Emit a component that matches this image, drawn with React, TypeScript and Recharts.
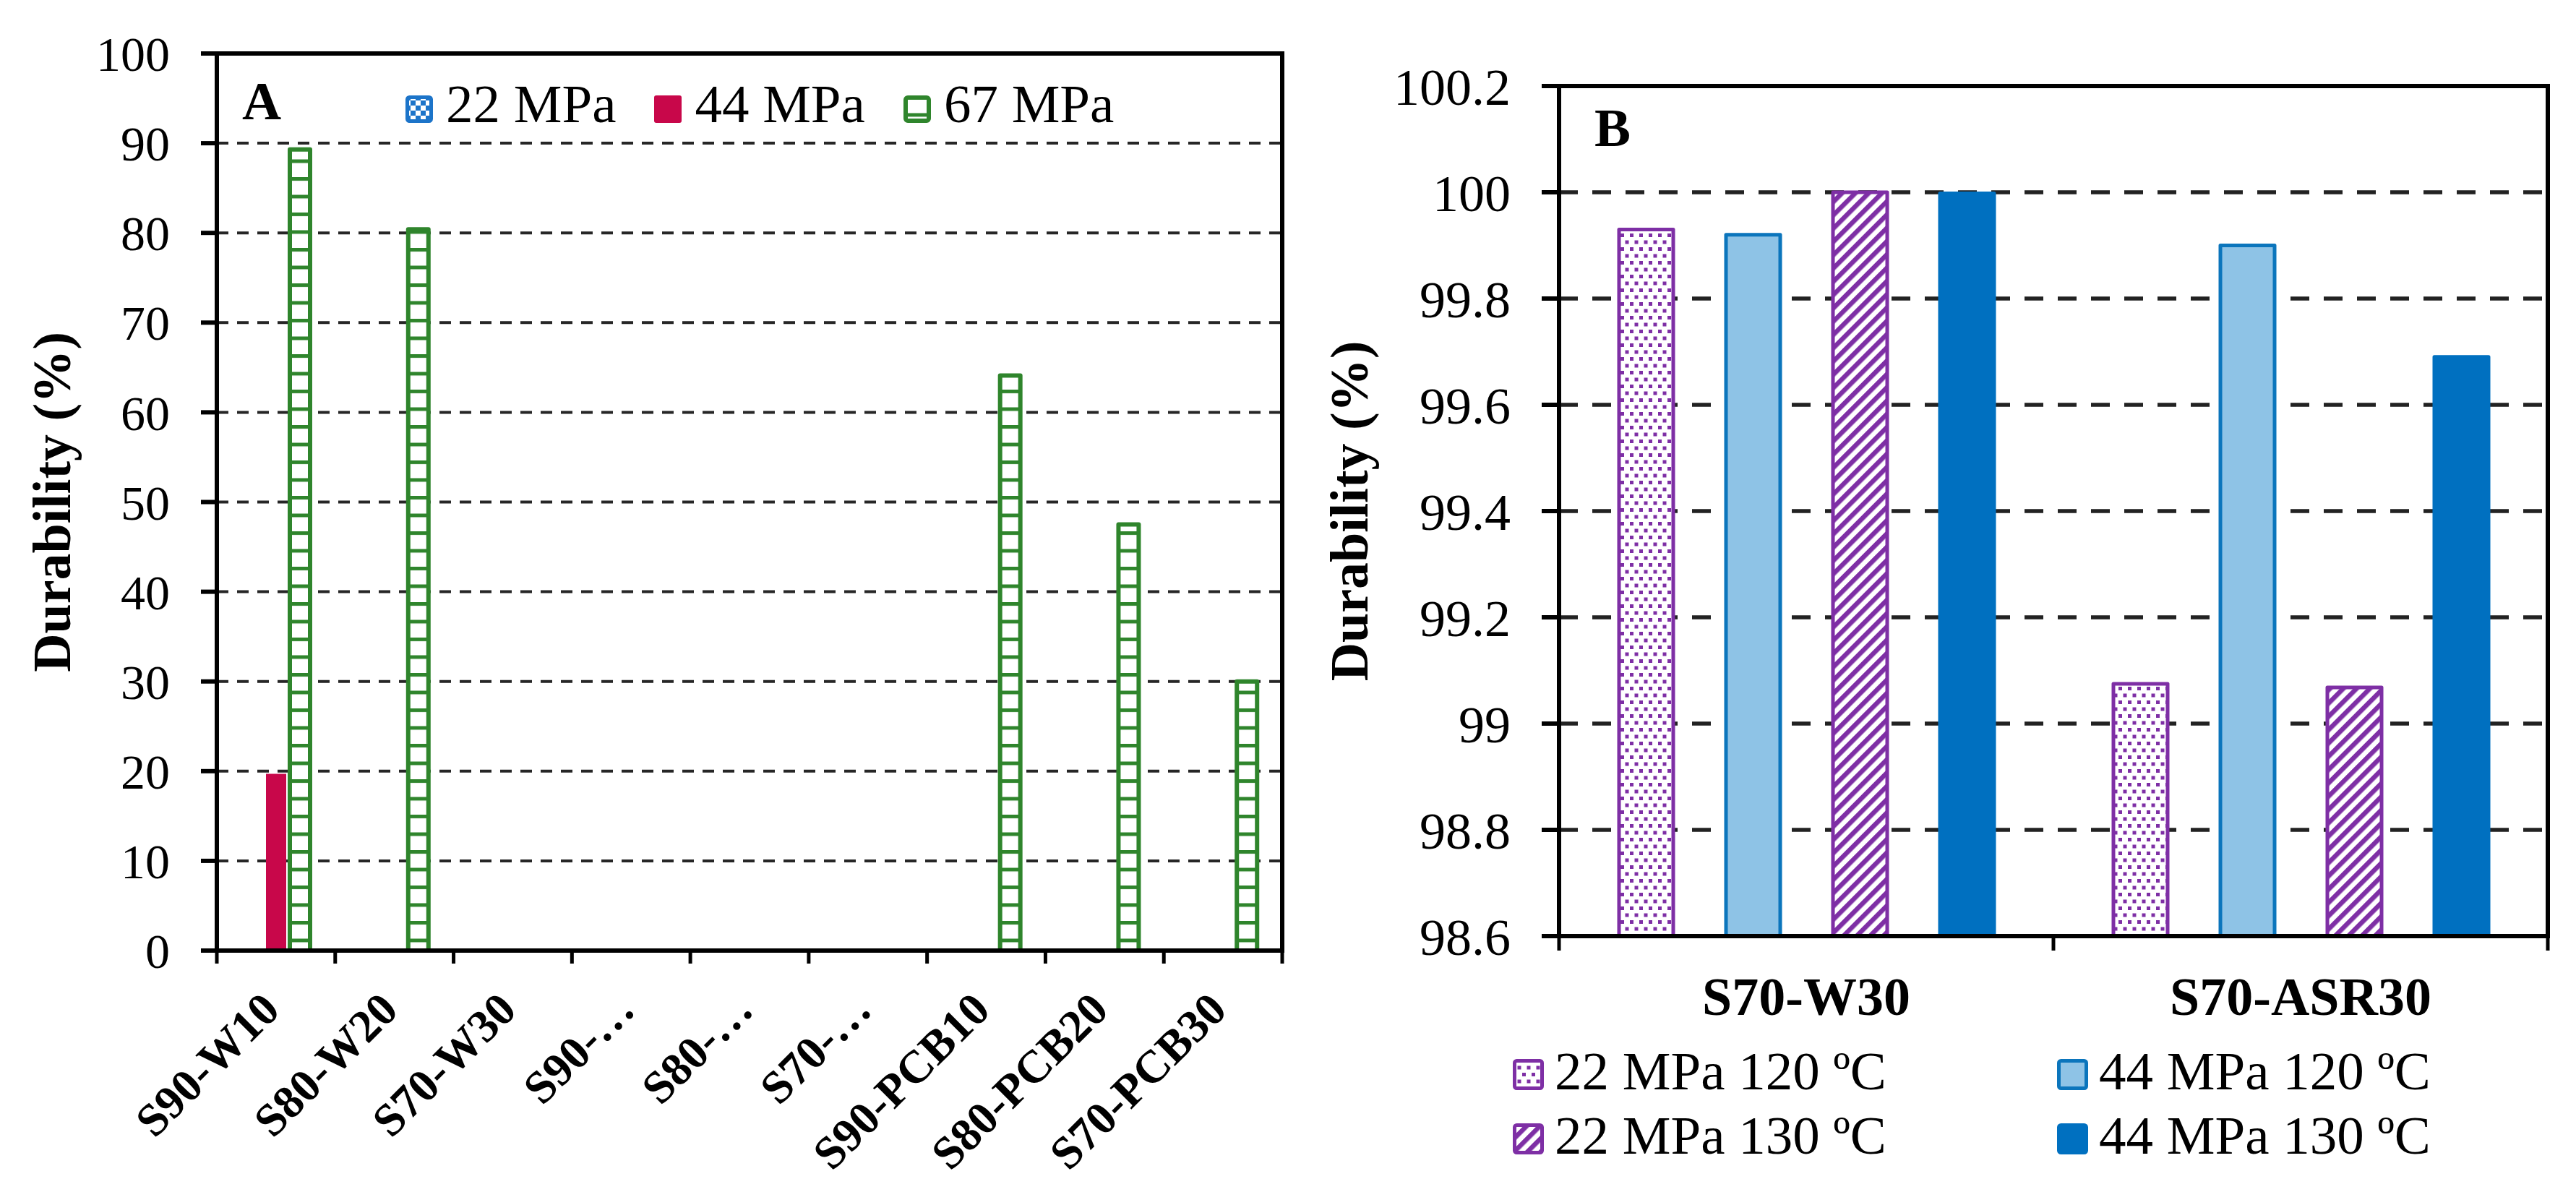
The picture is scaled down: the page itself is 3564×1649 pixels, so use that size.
import React from "react";
import { BarChart, Bar, XAxis, YAxis, CartesianGrid, Legend, Label } from "recharts";

const FONT = "'Times New Roman', 'Liberation Serif', serif";

// ---- panel A data ----
const categoriesA = [
  "S90-W10",
  "S80-W20",
  "S70-W30",
  "S90-…",
  "S80-…",
  "S70-…",
  "S90-PCB10",
  "S80-PCB20",
  "S70-PCB30",
];
const mpa22A: (number | null)[] = [null, null, null, null, null, null, null, null, null];
const mpa44A: (number | null)[] = [19.7, null, null, null, null, null, null, null, null];
const mpa67A: (number | null)[] = [89.3, 80.4, null, null, null, null, 64.1, 47.5, 30.0];
const ticksA = [0, 10, 20, 30, 40, 50, 60, 70, 80, 90, 100];

// ---- panel B data ----
const categoriesB = ["S70-W30", "S70-ASR30"];
const mpa22t120 = [99.93, 99.075];
const mpa44t120 = [99.92, 99.9];
const mpa22t130 = [100.0, 99.068];
const mpa44t130 = [99.998, 99.69];
const ticksB = [98.6, 98.8, 99, 99.2, 99.4, 99.6, 99.8, 100, 100.2];

const dataA = categoriesA.map((name, i) => ({
  name,
  p22: mpa22A[i],
  p44: mpa44A[i],
  p67: mpa67A[i],
}));

const dataB = categoriesB.map((name, i) => ({
  name,
  a120: mpa22t120[i],
  b120: mpa44t120[i],
  a130: mpa22t130[i],
  b130: mpa44t130[i],
}));

const PURPLE = "#7E2FA5";
const GREEN = "#2F852C";

const seriesA = [
  { key: "p22", name: "22 MPa", fill: "url(#aChecker)", stroke: "#1C74C9", sw: 5 },
  { key: "p44", name: "44 MPa", fill: "#C8074A", stroke: "none", sw: 0 },
  { key: "p67", name: "67 MPa", fill: "url(#aRungs)", stroke: GREEN, sw: 6 },
];

const seriesB = [
  { key: "a120", name: "22 MPa 120 ºC", fill: "url(#bDots)", stroke: PURPLE, sw: 5 },
  { key: "b120", name: "44 MPa 120 ºC", fill: "#8EC3E6", stroke: "#0B75BC", sw: 5 },
  { key: "a130", name: "22 MPa 130 ºC", fill: "url(#bHatch)", stroke: PURPLE, sw: 5 },
  { key: "b130", name: "44 MPa 130 ºC", fill: "#0070C0", stroke: "#0070C0", sw: 5 },
];

// chart layouts
const layoutA = { width: 1800, height: 1649, margin: { top: 74, right: 26, bottom: 34, left: 0 }, xAxisH: 300, yAxisW: 300 };
const layoutB = { width: 1764, height: 1649, margin: { top: 119, right: 39, bottom: 34, left: 0 }, xAxisH: 320, yAxisW: 357 };
const plotHeight = (l: typeof layoutA) => l.height - l.margin.top - l.margin.bottom - l.xAxisH;

function yTitle(offsetX: number) {
  return (props: any) => {
    const vb = props.viewBox || { x: 0, y: 0, width: 0, height: 0 };
    const x = vb.x + offsetX;
    const y = vb.y + vb.height / 2;
    return (
      <text
        x={x}
        y={y}
        transform={`rotate(-90, ${x}, ${y})`}
        textAnchor="middle"
        dominantBaseline="central"
        fontFamily={FONT}
        fontWeight="bold"
        fontSize={74}
        fill="#000"
      >
        Durability (%)
      </text>
    );
  };
}

// category ticks sit on the band edges, like Excel
function halfBand(props: any, n: number) {
  if (typeof props.width === "number" && props.width > 0) return props.width / n / 2;
  return props.payload?.offset ?? 0;
}

// top and right edges of the plot box, drawn from the last category tick
function Frame({ right, bottom, plotW, plotH }: { right: number; bottom: number; plotW: number; plotH: number }) {
  const top = bottom - plotH;
  return (
    <g>
      <line x1={right} x2={right} y1={bottom} y2={top} stroke="#000" strokeWidth={6} strokeLinecap="square" />
      <line x1={right - plotW} x2={right} y1={top} y2={top} stroke="#000" strokeWidth={6} strokeLinecap="square" />
    </g>
  );
}

function TickA(props: any) {
  const { x, y, payload, index } = props;
  const half = halfBand(props, categoriesA.length);
  const last = index === categoriesA.length - 1;
  const lx = x + 8;
  const ly = y + 85;
  return (
    <g>
      <line x1={x - half} x2={x - half} y1={y} y2={y + 18} stroke="#000" strokeWidth={5} />
      {last && <line x1={x + half} x2={x + half} y1={y} y2={y + 18} stroke="#000" strokeWidth={5} />}
      {last && <Frame right={x + half} bottom={y} plotW={half * 2 * categoriesA.length} plotH={plotHeight(layoutA)} />}
      <text
        x={lx}
        y={ly}
        textAnchor="end"
        transform={`rotate(-45, ${lx}, ${ly})`}
        fontFamily={FONT}
        fontWeight="bold"
        fontSize={64}
        fill="#000"
      >
        {payload.value}
      </text>
    </g>
  );
}

function TickB(props: any) {
  const { x, y, payload, index } = props;
  const half = halfBand(props, categoriesB.length);
  const last = index === categoriesB.length - 1;
  return (
    <g>
      <line x1={x - half} x2={x - half} y1={y} y2={y + 20} stroke="#000" strokeWidth={5} />
      {last && <line x1={x + half} x2={x + half} y1={y} y2={y + 20} stroke="#000" strokeWidth={5} />}
      {last && <Frame right={x + half} bottom={y} plotW={half * 2 * categoriesB.length} plotH={plotHeight(layoutB)} />}
      <text x={x} y={y + 109} textAnchor="middle" fontFamily={FONT} fontWeight="bold" fontSize={74} fill="#000">
        {payload.value}
      </text>
    </g>
  );
}

function Swatch({ s, size }: { s: any; size: number }) {
  const inset = s.sw / 2;
  return (
    <svg width={size} height={size} style={{ display: "block", flex: "none" }}>
      <rect
        x={inset}
        y={inset}
        width={size - s.sw}
        height={size - s.sw}
        rx={3}
        fill={s.fill}
        stroke={s.stroke === "none" ? s.fill : s.stroke}
        strokeWidth={s.sw || 0}
      />
    </svg>
  );
}

function LegendA(props: any) {
  const payload = [...(props.payload || [])].sort(
    (a: any, b: any) =>
      seriesA.findIndex((s) => s.key === a.dataKey) - seriesA.findIndex((s) => s.key === b.dataKey)
  );
  return (
    <div style={{ display: "flex", columnGap: 53, fontFamily: FONT, fontSize: 75, lineHeight: "75px", color: "#000" }}>
      {payload.map((it: any) => {
        const s = seriesA.find((q) => q.key === it.dataKey)!;
        return (
          <div key={it.dataKey} style={{ display: "flex", alignItems: "flex-start" }}>
            <div style={{ marginTop: 26, marginRight: 18 }}>
              <Swatch s={s} size={38} />
            </div>
            <span style={{ whiteSpace: "nowrap" }}>{it.value}</span>
          </div>
        );
      })}
    </div>
  );
}

function LegendB(props: any) {
  const payload = [...(props.payload || [])].sort(
    (a: any, b: any) =>
      seriesB.findIndex((s) => s.key === a.dataKey) - seriesB.findIndex((s) => s.key === b.dataKey)
  );
  return (
    <div
      style={{
        display: "grid",
        gridTemplateColumns: "753px 753px",
        gridAutoRows: "89px",
        fontFamily: FONT,
        fontSize: 75,
        lineHeight: "75px",
        color: "#000",
      }}
    >
      {payload.map((it: any) => {
        const s = seriesB.find((q) => q.key === it.dataKey)!;
        return (
          <div key={it.dataKey} style={{ display: "flex", alignItems: "flex-start" }}>
            <div style={{ marginTop: 21, marginRight: 15 }}>
              <Swatch s={s} size={43} />
            </div>
            <span style={{ whiteSpace: "nowrap" }}>{it.value}</span>
          </div>
        );
      })}
    </div>
  );
}

function ChartA() {
  return (
    <BarChart
      width={layoutA.width}
      height={layoutA.height}
      data={dataA}
      margin={layoutA.margin}
      barSize={28}
      barGap={5}
    >
      <defs>
        <pattern id="aRungs" patternUnits="userSpaceOnUse" width={10} height={24.5}>
          <rect x={0} y={0} width={10} height={24.5} fill="#fff" />
          <rect x={0} y={0} width={10} height={5} fill={GREEN} />
        </pattern>
        <pattern id="aChecker" patternUnits="userSpaceOnUse" width={14} height={14}>
          <rect x={0} y={0} width={14} height={14} fill="#fff" />
          <rect x={0} y={0} width={7} height={7} fill="#1C74C9" />
          <rect x={7} y={7} width={7} height={7} fill="#1C74C9" />
        </pattern>
      </defs>
      <CartesianGrid vertical={false} stroke="#262626" strokeWidth={4} strokeDasharray="16 12" />
      <XAxis
        dataKey="name"
        interval={0}
        height={layoutA.xAxisH}
        tickSize={0}
        tickMargin={0}
        tickLine={false}
        axisLine={{ stroke: "#000", strokeWidth: 6 }}
        tick={<TickA />}
      />
      <YAxis
        width={layoutA.yAxisW}
        domain={[0, 100]}
        ticks={ticksA}
        interval={0}
        tickSize={22}
        tickMargin={43}
        tickLine={{ stroke: "#000", strokeWidth: 6 }}
        axisLine={{ stroke: "#000", strokeWidth: 6 }}
        tick={{ fill: "#000", fontSize: 68, fontFamily: FONT }}
      >
        <Label content={yTitle(72)} />
      </YAxis>
      <Legend
        verticalAlign="middle"
        align="center"
        layout="horizontal"
        content={<LegendA />}
        wrapperStyle={{ left: 561, top: 106, width: 1200, height: 80 }}
      />
      {seriesA.map((s) => (
        <Bar
          key={s.key}
          dataKey={s.key}
          name={s.name}
          fill={s.fill}
          stroke={s.stroke}
          strokeWidth={s.sw}
          strokeLinejoin="round"
          isAnimationActive={false}
        />
      ))}
    </BarChart>
  );
}

function ChartB() {
  return (
    <BarChart
      width={layoutB.width}
      height={layoutB.height}
      data={dataB}
      margin={layoutB.margin}
      barSize={75}
      barGap={73}
    >
      <defs>
        <pattern id="bDots" patternUnits="userSpaceOnUse" width={13} height={19}>
          <rect x={0} y={0} width={13} height={19} fill="#fff" />
          <rect x={0} y={0} width={5} height={5} fill={PURPLE} />
          <rect x={6.5} y={9.5} width={5} height={5} fill={PURPLE} />
        </pattern>
        <pattern id="bHatch" patternUnits="userSpaceOnUse" width={13} height={13} patternTransform="rotate(45)">
          <rect x={0} y={0} width={13} height={13} fill="#fff" />
          <rect x={0} y={0} width={6.5} height={13} fill={PURPLE} />
        </pattern>
      </defs>
      <CartesianGrid vertical={false} stroke="#222" strokeWidth={5.5} strokeDasharray="26 20" />
      <XAxis
        dataKey="name"
        interval={0}
        height={layoutB.xAxisH}
        tickSize={0}
        tickMargin={0}
        tickLine={false}
        axisLine={{ stroke: "#000", strokeWidth: 6 }}
        tick={<TickB />}
      />
      <YAxis
        width={layoutB.yAxisW}
        domain={[98.6, 100.2]}
        ticks={ticksB}
        interval={0}
        tickSize={24}
        tickMargin={43}
        tickLine={{ stroke: "#000", strokeWidth: 6 }}
        axisLine={{ stroke: "#000", strokeWidth: 6 }}
        tick={{ fill: "#000", fontSize: 72, fontFamily: FONT }}
      >
        <Label content={yTitle(67)} />
      </YAxis>
      <Legend
        verticalAlign="middle"
        align="center"
        layout="horizontal"
        content={<LegendB />}
        wrapperStyle={{ left: 293, top: 1444, width: 1506, height: 178 }}
      />
      {seriesB.map((s) => (
        <Bar
          key={s.key}
          dataKey={s.key}
          name={s.name}
          fill={s.fill}
          stroke={s.stroke}
          strokeWidth={s.sw}
          strokeLinejoin="round"
          isAnimationActive={false}
        />
      ))}
    </BarChart>
  );
}

export default function App() {
  return (
    <div style={{ position: "relative", width: 3564, height: 1649, background: "#fff", overflow: "hidden" }}>
      <style>{"body{margin:0;background:#fff}"}</style>
      <div style={{ position: "absolute", left: 0, top: 0 }}>
        <ChartA />
      </div>
      <div style={{ position: "absolute", left: 1800, top: 0 }}>
        <ChartB />
      </div>
      <svg width={3564} height={1649} style={{ position: "absolute", left: 0, top: 0, pointerEvents: "none" }}>
        <text x={335} y={165} fontFamily={FONT} fontWeight="bold" fontSize={75} fill="#000">
          A
        </text>
        <text x={2206} y={202} fontFamily={FONT} fontWeight="bold" fontSize={75} fill="#000">
          B
        </text>
      </svg>
    </div>
  );
}
